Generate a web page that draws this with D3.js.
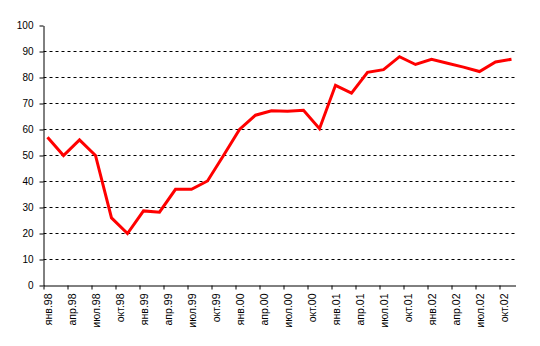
<!DOCTYPE html>
<html>
<head>
<meta charset="utf-8">
<script src="https://cdn.jsdelivr.net/npm/d3@7"></script>
<style>
  body { margin: 0; background: #fff; }
  svg { display: block; font-family: "Liberation Sans", Arial, sans-serif; }
</style>
</head>
<body>
<svg id="chart" width="540" height="346"></svg>
<script>
const W = 540, H = 346;

// observations every two months, first month = янв.98
const months = [
  "1998-01", "1998-03", "1998-05", "1998-07", "1998-09", "1998-11",
  "1999-01", "1999-03", "1999-05", "1999-07", "1999-09", "1999-11",
  "2000-01", "2000-03", "2000-05", "2000-07", "2000-09", "2000-11",
  "2001-01", "2001-03", "2001-05", "2001-07", "2001-09", "2001-11",
  "2002-01", "2002-03", "2002-05", "2002-07", "2002-09", "2002-11"
];
const values = [
  57, 50, 56, 50, 26, 20,
  28.7, 28.2, 37, 37, 40.2, 50,
  60, 65.5, 67.2, 67, 67.4, 60.3,
  77, 74, 82, 83, 88, 85,
  87, 85.5, 84, 82.3, 86, 87
];
const tickLabels = [
  "янв.98", "апр.98", "июл.98", "окт.98",
  "янв.99", "апр.99", "июл.99", "окт.99",
  "янв.00", "апр.00", "июл.00", "окт.00",
  "янв.01", "апр.01", "июл.01", "окт.01",
  "янв.02", "апр.02", "июл.02", "окт.02"
];
const yTicks = [0, 10, 20, 30, 40, 50, 60, 70, 80, 90, 100];

const monthIndex = s => {
  const [y, m] = s.split("-").map(Number);
  return (y - 1998) * 12 + (m - 1);
};
const data = months.map((m, i) => ({ m: monthIndex(m), v: values[i] }));

const margin = { left: 43.5, right: 24.5, top: 25.5, bottom: 60.5 };
const x = d3.scaleLinear().domain([0, 59]).range([margin.left, W - margin.right]);
const y = d3.scaleLinear().domain([0, 100]).range([H - margin.bottom, margin.top]);

const svg = d3.select("#chart");

// dashed gridlines
svg.append("g")
  .selectAll("line")
  .data(yTicks.filter(t => t > 0 && t < 100))
  .join("line")
  .attr("x1", x(0)).attr("x2", x(59))
  .attr("y1", d => y(d)).attr("y2", d => y(d))
  .attr("stroke", "#000")
  .attr("stroke-width", 1)
  .attr("stroke-dasharray", "3,3");

// y axis
const yAxis = svg.append("g")
  .attr("transform", `translate(${x(0)},0)`)
  .call(d3.axisLeft(y).tickValues(yTicks).tickSize(4).tickPadding(6).tickSizeOuter(0));
yAxis.select(".domain").attr("stroke", "#000");
yAxis.selectAll("text").attr("font-size", 10).attr("fill", "#000")
  .attr("font-family", "Liberation Sans, Arial, sans-serif");

// x axis, quarterly ticks
const xAxis = svg.append("g")
  .attr("transform", `translate(0,${y(0)})`)
  .call(d3.axisBottom(x)
    .tickValues(tickLabels.map((_, i) => i * 3))
    .tickFormat((d, i) => tickLabels[i])
    .tickSize(4)
    .tickSizeOuter(0));
xAxis.select(".domain").attr("stroke", "#000");
xAxis.selectAll("text")
  .attr("font-size", 10.5)
  .attr("fill", "#000")
  .attr("font-family", "Liberation Sans, Arial, sans-serif")
  .attr("text-anchor", "end")
  .attr("dy", null)
  .attr("y", 0)
  .attr("transform", "translate(8,8) rotate(-90)");

// series line
const line = d3.line()
  .x(d => x(d.m + 0.5))
  .y(d => y(d.v));

svg.append("path")
  .datum(data)
  .attr("d", line)
  .attr("fill", "none")
  .attr("stroke", "#ff0000")
  .attr("stroke-width", 3)
  .attr("stroke-linejoin", "miter");
</script>
</body>
</html>
